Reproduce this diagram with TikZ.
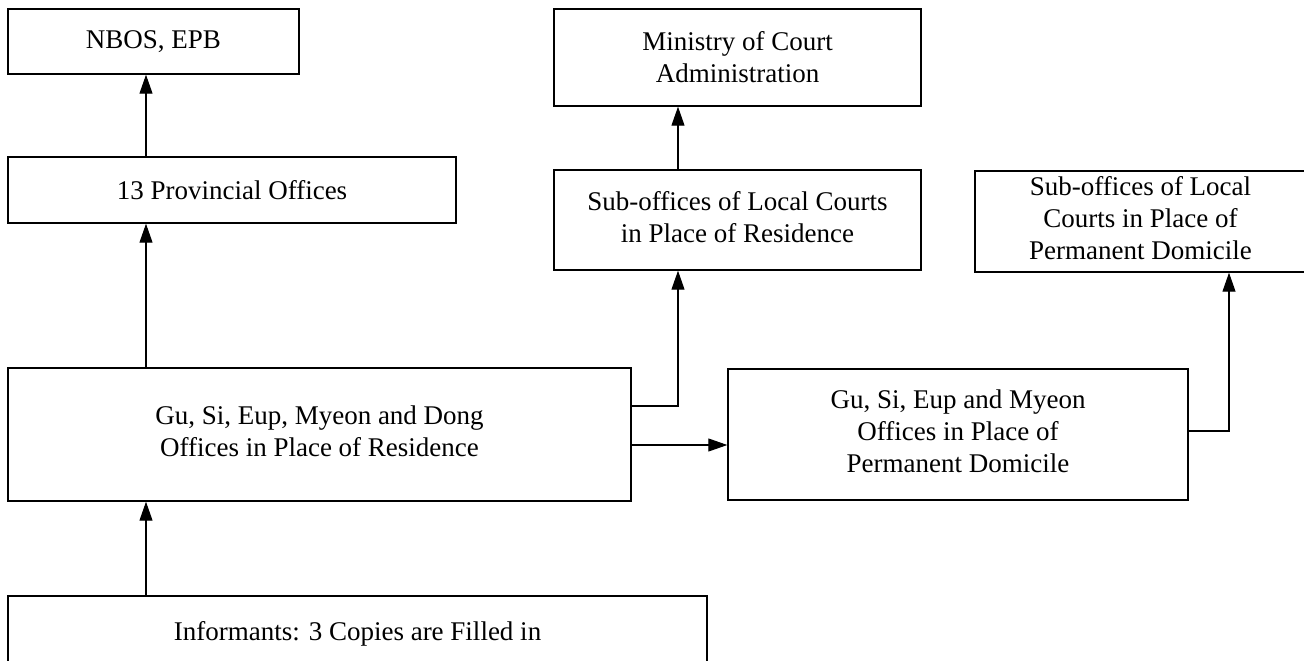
\documentclass[tikz,border=0pt]{standalone}
\usepackage{fontspec}
\setmainfont{Liberation Serif}
\usetikzlibrary{arrows.meta}
\newcommand{\lowstack}[2][-5pt]{\raisebox{#1}{\begin{tabular}{@{}c@{}}#2\end{tabular}}}
\begin{document}
\begin{tikzpicture}[x=1pt,y=-1pt,
  box/.style={draw,line width=1.4pt,rectangle,inner sep=0pt,align=center,
    font=\fontsize{27}{32}\selectfont},
  link/.style={line width=1.1pt,-{Triangle[length=19pt,width=13pt]}}]
\useasboundingbox (0,0) rectangle (1304,661);
\clip (0,0) rectangle (1304,661);
\fill[white] (0,0) rectangle (1304,661);

% statistics chain (left column)
\node[box,minimum width=291pt,minimum height=65pt] (nbos) at (153.5,41.5) {NBOS, EPB};
\node[box,minimum width=448pt,minimum height=66pt] (prov) at (232,190) {13 Provincial Offices};
\node[box,minimum width=623pt,minimum height=133pt] (gsr) at (319.5,434.5)
  {\lowstack{Gu, Si, Eup, Myeon and Dong\\Offices in Place of Residence}};
\node[box,minimum width=699pt,minimum height=76pt] (inf) at (357.5,634) {Informants: 3 Copies are Filled in};

% court chain
\node[box,minimum width=367pt,minimum height=97pt] (mca) at (737.5,57.5) {Ministry of Court\\Administration};
\node[box,minimum width=367pt,minimum height=100pt] (slcr) at (737.5,220)
  {\lowstack{Sub-offices of Local Courts\\in Place of Residence}};
\node[box,minimum width=331pt,minimum height=101pt] (slcp) at (1140.5,221.5)
  {\lowstack[-2pt]{Sub-offices of Local\\Courts in Place of\\Permanent Domicile}};
\node[box,minimum width=460pt,minimum height=131pt] (gsp) at (958,434.5)
  {\lowstack{Gu, Si, Eup and Myeon\\Offices in Place of\\Permanent Domicile}};

% connector guide points
\coordinate (colA) at (146,0);
\coordinate (colB) at (678,0);
\coordinate (colC) at (1229,0);
\coordinate (rowA) at (0,406);
\coordinate (rowB) at (0,445);
\coordinate (rowC) at (0,431);

% connectors
\draw[link] (inf.north -| colA) -- (gsr.south -| colA);
\draw[link] (gsr.north -| colA) -- (prov.south -| colA);
\draw[link] (prov.north -| colA) -- (nbos.south -| colA);
\draw[link] (slcr.north -| colB) -- (mca.south -| colB);
\draw[link] (gsr.east |- rowA) -| (slcr.south -| colB);
\draw[link] (gsr.east |- rowB) -- (gsp.west |- rowB);
\draw[link] (gsp.east |- rowC) -| (slcp.south -| colC);
\end{tikzpicture}
\end{document}
